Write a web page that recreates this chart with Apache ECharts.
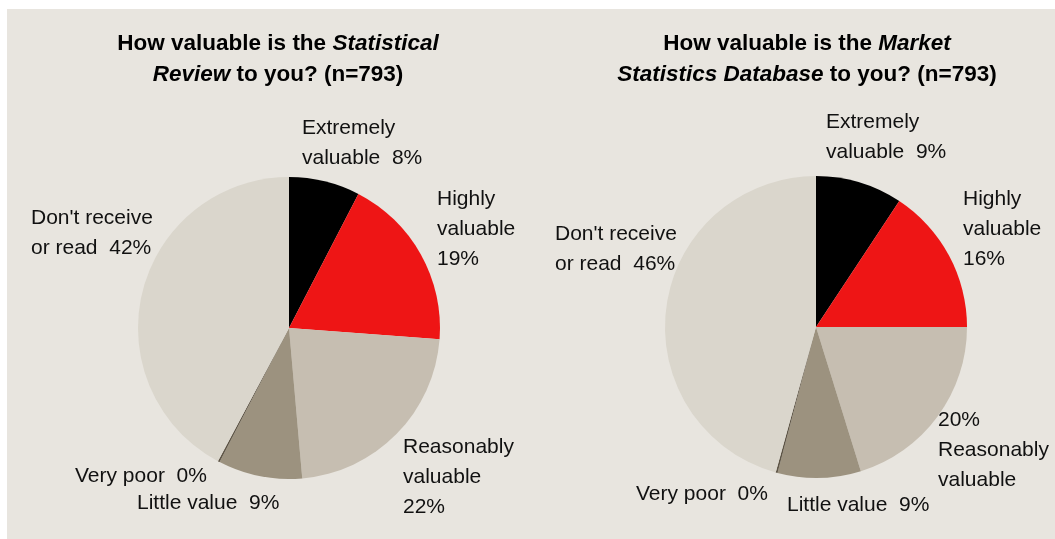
<!DOCTYPE html>
<html>
<head>
<meta charset="utf-8">
<title>Value of Statistical Review and Market Statistics Database</title>
<script src="https://cdn.jsdelivr.net/npm/echarts@6/dist/echarts.min.js"></script>
<style>
  html, body { margin: 0; padding: 0; background: #ffffff; }
  #chart { width: 1055px; height: 539px; }
</style>
</head>
<body>
<div id="chart"></div>
<script>
// categories, clockwise from 12 o'clock
const categories = ['Extremely valuable', 'Highly valuable', 'Reasonably valuable', 'Little value', 'Very poor', "Don't receive or read"]

// share of respondents (%)
const reviewValues = [7.6, 18.6, 22.4, 9.0, 0.2, 42.2]
const databaseValues = [9.3, 15.7, 20.2, 8.9, 0.2, 45.7]

// label text, {p} is replaced with the rounded share
const reviewLabels = ['Extremely\nvaluable  {p}%', 'Highly\nvaluable\n{p}%', 'Reasonably\nvaluable\n{p}%', 'Little value  {p}%', 'Very poor  {p}%', "Don't receive\nor read  {p}%"]
const databaseLabels = ['Extremely\nvaluable  {p}%', 'Highly\nvaluable\n{p}%', '{p}%\nReasonably\nvaluable', 'Little value  {p}%', 'Very poor  {p}%', "Don't receive\nor read  {p}%"]

const sliceColors = ['#000000', '#ee1515', '#c6beb1', '#9c927f', '#5e5546', '#dad6cc']

// label anchor (top-left) per slice
const reviewLabelPos = [[302, 113], [437, 184], [403, 432], [137, 488], [75, 461], [31, 203]]
const databaseLabelPos = [[826, 107], [963, 184], [938, 405], [787, 490], [636, 479], [555, 219]]

function makeSeries(values, labels, center, labelPos) {
  return {
    type: 'pie',
    center: center,
    radius: 151,
    startAngle: 90,
    clockwise: true,
    avoidLabelOverlap: false,
    silent: true,
    data: categories.map((name, i) => ({
      name: name,
      value: values[i],
      itemStyle: { color: sliceColors[i] }
    })),
    itemStyle: { borderWidth: 0 },
    label: {
      show: true,
      position: 'outside',
      color: '#111',
      fontFamily: 'Liberation Sans, Arial, sans-serif',
      fontSize: 21,
      lineHeight: 30,
      align: 'left',
      formatter: p => labels[p.dataIndex].replace('{p}', Math.round(p.value))
    },
    labelLine: { show: false },
    labelLayout: p => ({
      x: labelPos[p.dataIndex][0],
      y: labelPos[p.dataIndex][1],
      align: 'left',
      verticalAlign: 'top'
    })
  }
}

const titleRich = {
  b: { fontWeight: 'bold', fontSize: 22.5, lineHeight: 31, color: '#000', fontFamily: 'Liberation Sans, Arial, sans-serif' },
  bi: { fontWeight: 'bold', fontStyle: 'italic', fontSize: 22.5, lineHeight: 31, color: '#000', fontFamily: 'Liberation Sans, Arial, sans-serif' }
}

const chart = echarts.init(document.getElementById('chart'))
chart.setOption({
  animation: false,
  backgroundColor: '#ffffff',
  graphic: [{
    type: 'rect',
    z: -10,
    shape: { x: 7, y: 9, width: 1048, height: 530 },
    style: { fill: '#e8e5df' }
  }],
  title: [
    {
      text: '{b|How valuable is the }{bi|Statistical}\n{bi|Review}{b| to you? (n=793)}',
      left: 273,
      top: 23,
      textAlign: 'center',
      textStyle: { rich: titleRich }
    },
    {
      text: '{b|How valuable is the }{bi|Market}\n{bi|Statistics Database}{b| to you? (n=793)}',
      left: 802,
      top: 23,
      textAlign: 'center',
      textStyle: { rich: titleRich }
    }
  ],
  series: [
    makeSeries(reviewValues, reviewLabels, [289, 328], reviewLabelPos),
    makeSeries(databaseValues, databaseLabels, [816, 327], databaseLabelPos)
  ]
})
</script>
</body>
</html>
